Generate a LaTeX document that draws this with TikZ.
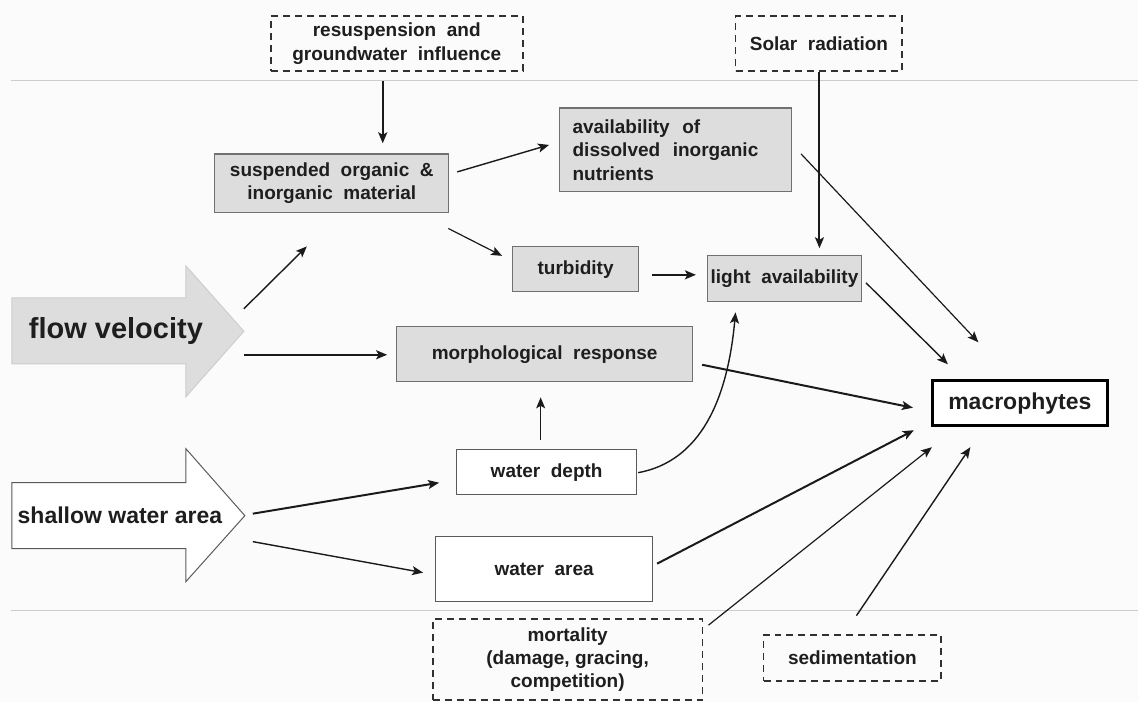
\documentclass[tikz,border=0pt]{standalone}
\usepackage{fontspec}
\setmainfont{Liberation Sans}
\usetikzlibrary{arrows.meta,calc}
\definecolor{bgcol}{HTML}{FBFBFB}
\definecolor{boxgray}{HTML}{DDDDDD}
\definecolor{boxedge}{HTML}{707070}
\definecolor{txtcol}{HTML}{1E1E1E}
\definecolor{linecol}{HTML}{1A1A1A}
\definecolor{sepcol}{HTML}{CDCDCD}
\begin{document}
\begin{tikzpicture}[x=1pt,y=-1pt,
  every node/.style={font=\bfseries\fontsize{19}{23.5}\selectfont, text=txtcol, inner sep=0pt, align=center},
  graybox/.style={draw=boxedge, fill=boxgray, line width=1.2pt},
  whitebox/.style={draw=boxedge!80!black, fill=white, line width=1.2pt},
  dashbox/.style={draw=linecol!90, line width=1.9pt, dash pattern=on 7pt off 5pt},
  mainbox/.style={draw=black, fill=white, line width=3pt, font=\bfseries\fontsize{23}{27}\selectfont},
  bigarrow/.style={line width=1pt},
  conn/.style={draw=linecol, line width=1.4pt, -{Stealth[length=11pt,width=9pt,inset=2.5pt]}},
  connthin/.style={conn, line width=1.2pt},
  connthick/.style={conn, line width=2pt},
  sepline/.style={draw=sepcol, line width=1.5pt}]

% canvas and the two horizontal separators
\fill[bgcol] (0,0) rectangle (1139,702);
\draw[sepline] (11,80.5) -- (1139,80.5);
\draw[sepline] (11,611) -- (1139,611);

% outside influences (dashed)
\node[dashbox, minimum width=252, minimum height=55] (res) at (397,43.5)
  {resuspension\ \ and\\groundwater\ \ influence};
\node[dashbox, minimum width=167, minimum height=55] (sol) at (819.5,43.5)
  {Solar\ \ radiation};
\node[dashbox, minimum width=270, minimum height=81] (mort) at (568,660)
  {mortality\\(damage, gracing,\\competition)};
\node[dashbox, minimum width=178, minimum height=46] (sed) at (853,658)
  {sedimentation};

% driving factors
\fill[boxgray, draw=sepcol, bigarrow] (12,298) -- (186,298) -- (186,266) -- (244,331.5)
  -- (186,397) -- (186,364) -- (12,364) -- cycle;
\coordinate (flowtip) at (244,331.5);
\node[font=\bfseries\fontsize{29}{33}\selectfont] (flow) at (116,331) {flow velocity};

\fill[white, draw=boxedge!80!black, bigarrow] (12,483) -- (186,483) -- (186,449) -- (245,516)
  -- (186,582) -- (186,549) -- (12,549) -- cycle;
\coordinate (shtip) at (245,516);
\node[font=\bfseries\fontsize{23}{27}\selectfont] (shallow) at (120,516) {shallow water area};

% process boxes
\node[graybox, minimum width=234, minimum height=59] (sus) at (332,183.5)
  {suspended\ \ organic\ \ \&\\inorganic\ \ material};
\node[graybox, minimum width=232, minimum height=84, align=left, text width=206] (avail) at (676,150)
  {availability\ \ of\\dissolved\ \ inorganic\\nutrients};
\node[graybox, minimum width=126, minimum height=45] (turb) at (576,269.5) {turbidity};
\node[graybox, minimum width=154, minimum height=46] (light) at (785,279) {light\ \ availability};
\node[graybox, minimum width=296, minimum height=55] (morph) at (545,354.5)
  {morphological\ \ response};
\node[whitebox, minimum width=180, minimum height=45] (depth) at (547,472.5) {water\ \ depth};
\node[whitebox, minimum width=217, minimum height=65] (area) at (544.5,569.5) {water\ \ area};
\node[mainbox, minimum width=175, minimum height=45] (macro) at (1020.5,403.5) {macrophytes};

% connectors
\draw[connthick] ($(res.south)+(-14,9)$) -- ($(sus.north)+(51,-10)$);
\draw[conn] ($(sus.east)+(8,-11.5)$) -- ($(avail.west)+(-10,-5)$);
\draw[connthin] ($(sus.south east)+(-1,15)$) -- ($(turb.west)+(-10,-13.5)$);
\draw[conn] ($(flowtip)+(0,-22.5)$) -- ($(sus.south)+(-25,33)$);
\draw[connthick] ($(flowtip)+(0,23.5)$) -- ($(morph.west)+(-9,0.5)$);
\draw[connthick] ($(turb.east)+(13,5.5)$) -- ($(light.west)+(-11,-4)$);
\draw[connthick] ($(sol.south)+(0.5,0)$) -- ($(light.north)+(35,-7)$);
\draw[connthin] ($(avail.east)+(9,4)$) -- ($(macro.north)+(-41.5,-37)$);
\draw[conn] ($(light.east)+(4,4)$) -- ($(macro.north west)+(17,-15)$);
\draw[connthick] ($(morph.east)+(9,10.5)$) -- ($(macro.west)+(-18,4.5)$);
\draw[conn] ($(depth.east)+(1,0.5)$) .. controls ($(depth.east)+(63,-11)$) and ($(light.south)+(-57,98)$)
  .. ($(light.south)+(-49,10)$);
\draw[connthin] ($(depth.north)+(-6,-9)$) -- ($(morph.south)+(-4,15)$);
\draw[connthick] ($(shtip)+(8,-2)$) -- ($(depth.west)+(-17,10.5)$);
\draw[conn] ($(shtip)+(8,26)$) -- ($(area.west)+(-12,3.5)$);
\draw[connthick] ($(area.east)+(4,-5.5)$) -- ($(macro.south west)+(-17,3)$);
\draw[connthin] ($(mort.north east)+(5,7)$) -- ($(macro.south west)+(1,20)$);
\draw[conn] ($(sed.north)+(4,-18)$) -- ($(macro.south)+(-49.5,20)$);
\end{tikzpicture}
\end{document}
